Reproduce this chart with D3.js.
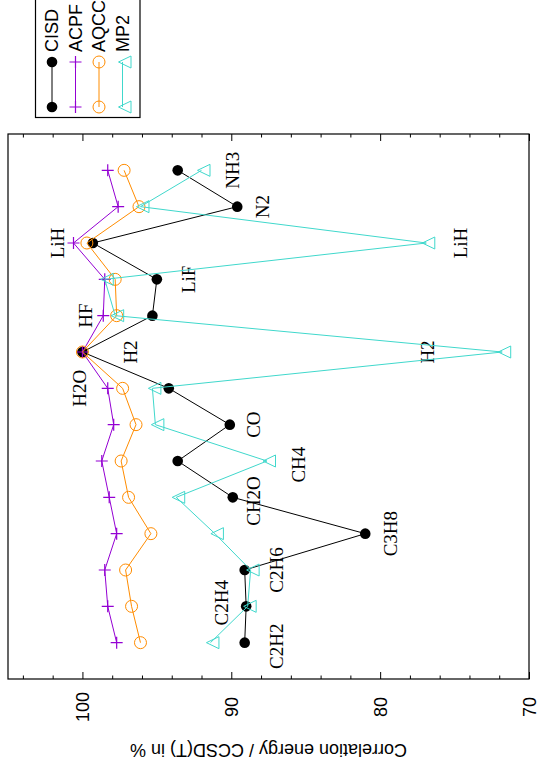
<!DOCTYPE html>
<html>
<head>
<meta charset="utf-8">
<script src="https://cdn.jsdelivr.net/npm/d3@7"></script>
<style>
  html, body { margin: 0; padding: 0; background: #fff; }
  svg { display: block; }
</style>
</head>
<body>
<svg id="chart" width="539" height="765"></svg>
<script>
// Molecules along the category axis (index 0 at the bottom)
const molecules = ["C2H2", "C2H4", "C2H6", "C3H8", "CH2O", "CH4", "CO",
                   "H2O", "H2", "HF", "LiF", "LiH", "N2", "NH3"];

// Correlation energy recovered, relative to CCSD(T), in %
const cisd = [89.1, 89.0, 89.1, 81.0, 89.9, 93.6, 90.1, 94.2, 100, 95.3, 95.0, 99.3, 89.6, 93.6];
const acpf = [97.7, 98.3, 98.5, 97.7, 98.2, 98.7, 97.9, 98.3, 100, 98.6, 98.5, 100.6, 97.6, 98.3];
const aqcc = [96.1, 96.7, 97.1, 95.4, 96.9, 97.4, 96.4, 97.3, 100, 97.7, 97.8, 99.7, 96.2, 97.2];
const mp2  = [91.4, 88.9, 88.7, 91.1, 93.7, 87.6, 95.1, 95.3, 71.8, 97.8, 98.5, 76.9, 96.1, 92.0];

// Value axis
const valueDomain = [105, 70];
const majorTicks = [100, 90, 80, 70];
const minorTicks = d3.range(104, 69, -2);
const axisTitle = "Correlation energy / CCSD(T) in %";

// Molecule labels placed in data coordinates (category index, value)
const labels = [
  { text: "C2H2", at: -0.1, v: 87.0 },
  { text: "C2H4", at: 1.1,  v: 90.7 },
  { text: "C2H6", at: 2,    v: 87.0 },
  { text: "C3H8", at: 3,    v: 79.3 },
  { text: "CH2O", at: 3.9,  v: 88.5 },
  { text: "CH4",  at: 4.9,  v: 85.5 },
  { text: "CO",   at: 6,    v: 88.5 },
  { text: "H2O",  at: 7,    v: 100.2 },
  { text: "H2",   at: 8,    v: 96.8 },
  { text: "H2",   at: 8,    v: 76.8 },
  { text: "HF",   at: 9,    v: 99.8 },
  { text: "LiF",  at: 10,   v: 92.9 },
  { text: "LiH",  at: 11,   v: 101.7 },
  { text: "LiH",  at: 11,   v: 74.6 },
  { text: "N2",   at: 12,   v: 87.9 },
  { text: "NH3",  at: 13,   v: 89.9 }
];

const series = [
  { name: "CISD", values: cisd, color: "#000000", marker: "dot" },
  { name: "ACPF", values: acpf, color: "#9400d3", marker: "plus" },
  { name: "AQCC", values: aqcc, color: "#ff8c00", marker: "ring" },
  { name: "MP2",  values: mp2,  color: "#40d8cc", marker: "tri" }
];

const frame = { left: 8, right: 529, top: 134, bottom: 679 };
const sans = "'Liberation Sans', Arial, Helvetica, sans-serif";
const serif = "'Liberation Serif', 'Times New Roman', Times, serif";

const svg = d3.select("#chart");

const x = d3.scaleLinear().domain(valueDomain).range([frame.left, frame.right]);
const y = d3.scaleLinear().domain([-1, molecules.length]).range([frame.bottom, frame.top]);

// Ticks on bottom and top edges, pointing inwards
const bottomMajor = d3.axisBottom(x).tickValues(majorTicks).tickSize(-7).tickSizeOuter(0).tickFormat(d3.format("d"));
const bottomMinor = d3.axisBottom(x).tickValues(minorTicks.filter(t => !majorTicks.includes(t))).tickSize(-3.5).tickSizeOuter(0).tickFormat("");
const topMajor = d3.axisTop(x).tickValues(majorTicks).tickSize(-7).tickSizeOuter(0).tickFormat("");
const topMinor = d3.axisTop(x).tickValues(minorTicks.filter(t => !majorTicks.includes(t))).tickSize(-3.5).tickSizeOuter(0).tickFormat("");

function styleAxis(g) {
  g.select(".domain").remove();
  g.selectAll(".tick line").attr("stroke", "#000").attr("stroke-width", 1);
}

svg.append("g").attr("transform", `translate(0,${frame.bottom})`).call(bottomMinor).call(styleAxis);
const bAxis = svg.append("g").attr("transform", `translate(0,${frame.bottom})`).call(bottomMajor).call(styleAxis);
svg.append("g").attr("transform", `translate(0,${frame.top})`).call(topMinor).call(styleAxis);
svg.append("g").attr("transform", `translate(0,${frame.top})`).call(topMajor).call(styleAxis);

bAxis.selectAll(".tick text")
  .attr("y", null).attr("dy", "0.35em")
  .attr("transform", "translate(0,28) rotate(-90)")
  .attr("text-anchor", "middle")
  .attr("fill", "#000")
  .style("font-family", sans).style("font-size", "18px");

// Axis title (upside down)
svg.append("text")
  .attr("transform", `translate(${(frame.left + frame.right) / 2},750) rotate(180)`)
  .attr("text-anchor", "middle").attr("dy", "0.35em")
  .style("font-family", sans).style("font-size", "18px")
  .text(axisTitle);

// Molecule labels
svg.append("g").selectAll("text").data(labels).join("text")
  .attr("transform", d => `translate(${x(d.v)},${y(d.at)}) rotate(-90)`)
  .attr("text-anchor", "middle").attr("dy", "0.35em")
  .style("font-family", serif).style("font-size", "19px")
  .text(d => d.text);

// Marker drawing helper
function drawMarker(g, marker, color) {
  if (marker === "dot") {
    g.append("circle").attr("r", 5.3).attr("fill", color);
  } else if (marker === "ring") {
    g.append("circle").attr("r", 6).attr("fill", "none").attr("stroke", color).attr("stroke-width", 1);
  } else if (marker === "plus") {
    g.append("path").attr("d", "M-6,0H6M0,-6V6").attr("stroke", color).attr("stroke-width", 1.2).attr("fill", "none");
  } else if (marker === "tri") {
    g.append("path").attr("d", "M-4,0L8.5,-6L8.5,6Z").attr("stroke", color).attr("stroke-width", 1).attr("fill", "none");
  }
}

const line = d3.line().x(d => x(d[1])).y(d => y(d[0]));

series.forEach(s => {
  const pts = s.values.map((v, i) => [i, v]);
  const g = svg.append("g");
  g.append("path").datum(pts)
    .attr("d", line).attr("fill", "none")
    .attr("stroke", s.color).attr("stroke-width", 1);
  pts.forEach(p => {
    const m = g.append("g").attr("transform", `translate(${x(p[1])},${y(p[0])})`);
    drawMarker(m, s.marker, s.color);
  });
});

// Plot frame
svg.append("rect")
  .attr("x", frame.left).attr("y", frame.top)
  .attr("width", frame.right - frame.left).attr("height", frame.bottom - frame.top)
  .attr("fill", "none").attr("stroke", "#000").attr("stroke-width", 1.2);

// Legend
const legend = { left: 35.5, right: 140, bottom: 117.5, col0: 52, step: 23.5, textY: 52, s0: 62, s1: 107 };
svg.append("rect")
  .attr("x", legend.left).attr("y", -10)
  .attr("width", legend.right - legend.left).attr("height", legend.bottom + 10)
  .attr("fill", "#fff").attr("stroke", "#000").attr("stroke-width", 1.2);

series.forEach((s, i) => {
  const cx = legend.col0 + i * legend.step;
  const g = svg.append("g");
  g.append("line").attr("x1", cx).attr("x2", cx).attr("y1", legend.s0).attr("y2", legend.s1)
    .attr("stroke", s.color).attr("stroke-width", 1);
  [legend.s0, legend.s1].forEach(yy => {
    drawMarker(g.append("g").attr("transform", `translate(${cx},${yy})`), s.marker, s.color);
  });
  g.append("text")
    .attr("transform", `translate(${cx},${legend.textY}) rotate(-90)`)
    .attr("text-anchor", "start").attr("dy", "0.35em")
    .style("font-family", sans).style("font-size", "18px")
    .text(s.name);
});
</script>
</body>
</html>
